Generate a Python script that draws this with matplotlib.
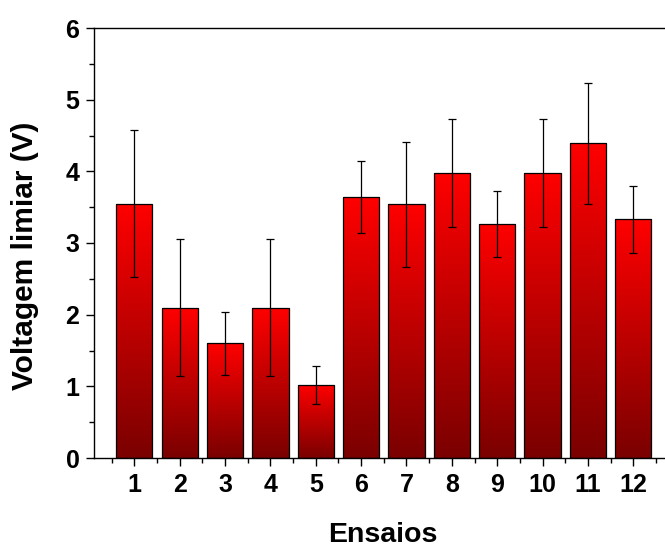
import numpy as np
import matplotlib
matplotlib.use("Agg")
import matplotlib.pyplot as plt
from matplotlib.colors import LinearSegmentedColormap
from matplotlib.ticker import MultipleLocator

plt.rcParams['font.family'] = ['Liberation Sans', 'DejaVu Sans']
plt.rcParams['font.weight'] = 'bold'

# Threshold voltage per trial, with its error
ensaios = [1, 2, 3, 4, 5, 6, 7, 8, 9, 10, 11, 12]
tick_labels = [str(e) for e in ensaios]
voltagem = [3.55, 2.10, 1.60, 2.10, 1.02, 3.64, 3.54, 3.98, 3.27, 3.98, 4.39, 3.33]
erro = [1.02, 0.95, 0.44, 0.95, 0.27, 0.50, 0.87, 0.75, 0.46, 0.75, 0.84, 0.47]

W, H = 665, 547
fig = plt.figure(figsize=(W / 100, H / 100), dpi=100)
ax = fig.add_axes([94 / W, 1 - 458 / H, 1 - 94 / W, (458 - 28) / H])

bars = ax.bar(ensaios, voltagem, width=0.8, color='none',
              edgecolor='black', linewidth=0.9, zorder=3)

# vertical red gradient inside every bar (bright at top, dark at base)
cmap = LinearSegmentedColormap.from_list('verm', ['#7a0000', '#ff0000'])
grad = np.linspace(0, 1, 256).reshape(-1, 1)
for b in bars:
    x0, w, h = b.get_x(), b.get_width(), b.get_height()
    im = ax.imshow(grad, extent=[x0, x0 + w, 0, h], origin='lower',
                   aspect='auto', cmap=cmap, zorder=2, interpolation='bilinear')
    im.set_clip_path(b)

ax.errorbar(ensaios, voltagem, yerr=erro, fmt='none', ecolor='black',
            elinewidth=0.9, capsize=3, capthick=0.9, zorder=4)

ax.set_xlim(0.111, 12.70)
ax.set_ylim(0, 6)

ax.set_xticks(ensaios)
ax.set_xticklabels(tick_labels)
ax.xaxis.set_minor_locator(MultipleLocator(1, offset=0.5))
ax.yaxis.set_major_locator(MultipleLocator(1))
ax.yaxis.set_minor_locator(MultipleLocator(0.5))

ax.tick_params(which='major', direction='out', length=6, width=1.0,
               labelsize=18, pad=4.5)
ax.tick_params(axis='x', which='major', pad=5)
ax.tick_params(which='minor', direction='out', length=3.5, width=1.0)

for s in ['left', 'bottom', 'top']:
    ax.spines[s].set_linewidth(1.0)
ax.spines['right'].set_visible(False)

for lab in ax.get_xticklabels() + ax.get_yticklabels():
    lab.set_fontweight('bold')

ax.set_xlabel('Ensaios', fontsize=20.5, fontweight='bold')
ax.set_ylabel('Voltagem limiar (V)', fontsize=21.5, fontweight='bold')
# axis-title positions in figure pixels
ax.xaxis.set_label_coords(383 / W, 1 - 535 / H, transform=fig.transFigure)
ax.yaxis.set_label_coords(25 / W, 1 - 256 / H, transform=fig.transFigure)
ax.xaxis.label.set_va('center')
ax.yaxis.label.set_va('center')

fig.savefig('out.png', dpi=100)
